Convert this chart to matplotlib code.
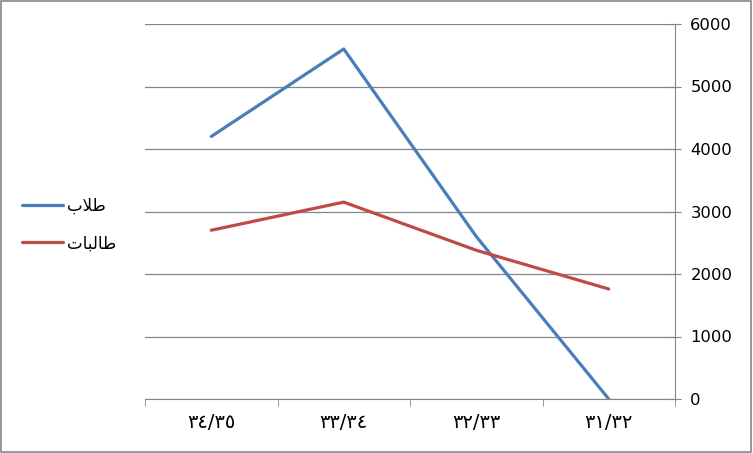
import matplotlib
matplotlib.use("Agg")
from matplotlib import pyplot as plt
from matplotlib.patches import Rectangle

# categories shown left to right (Arabic-Indic digits)
categories = ["٣٤/٣٥", "٣٣/٣٤", "٣٢/٣٣", "٣١/٣٢"]
# legend labels, written as visual-order presentation forms so they show joined
label_blue = "\ufe8f\ufefc\ufec3"                    # طلاب
label_red = "\ufe95\ufe8e\ufe92\ufedf\ufe8e\ufec3"   # طالبات
students_m = [4200, 5600, 2600, 0]
students_f = [2700, 3150, 2380, 1760]
yticks = [0, 1000, 2000, 3000, 4000, 5000, 6000]

blue = "#4a7ebb"
red = "#be4b48"
grey = "#868686"

fig = plt.figure(figsize=(7.53, 4.53), dpi=100)
ax = fig.add_axes([145/753, 54/453, 530/753, 375/453])

x = list(range(len(categories)))
l1, = ax.plot(x, students_m, color=blue, lw=2.3, solid_capstyle="round")
l2, = ax.plot(x, students_f, color=red, lw=2.3, solid_capstyle="round")

ax.set_xlim(-0.5, 3.5)
ax.set_ylim(0, 6000)
ax.set_yticks(yticks)
ax.yaxis.tick_right()
ax.yaxis.grid(True, color=grey, lw=0.9)
ax.set_axisbelow(True)
ax.tick_params(axis="y", which="both", direction="inout", length=8, color=grey,
               labelsize=11.8, pad=7)
for t in ax.get_yticklabels():
    t.set_fontfamily("DejaVu Sans")

ax.set_xticks(x)
ax.set_xticklabels(categories, fontsize=14, fontfamily="DejaVu Sans")
ax.set_xticks([-0.5, 0.5, 1.5, 2.5, 3.5], minor=True)
ax.tick_params(axis="x", which="major", length=0, pad=10)
ax.tick_params(axis="x", which="minor", direction="out", length=5, color=grey)

for s in ["top", "left"]:
    ax.spines[s].set_visible(False)
ax.spines["right"].set_color(grey)
ax.spines["bottom"].set_color(grey)

leg = fig.legend([l1, l2], [label_blue, label_red], loc="center left",
                 bbox_to_anchor=(22/753, 0.504), frameon=False, handlelength=2.45,
                 handletextpad=0.25, labelspacing=1.15, borderpad=0,
                 borderaxespad=0, prop={"family": "DejaVu Sans", "size": 12})

fig.patches.append(Rectangle((0.001, 0.002), 0.997, 0.995, transform=fig.transFigure,
                             fill=False, edgecolor=grey, lw=1.2))

plt.savefig("out.png", dpi=100)
